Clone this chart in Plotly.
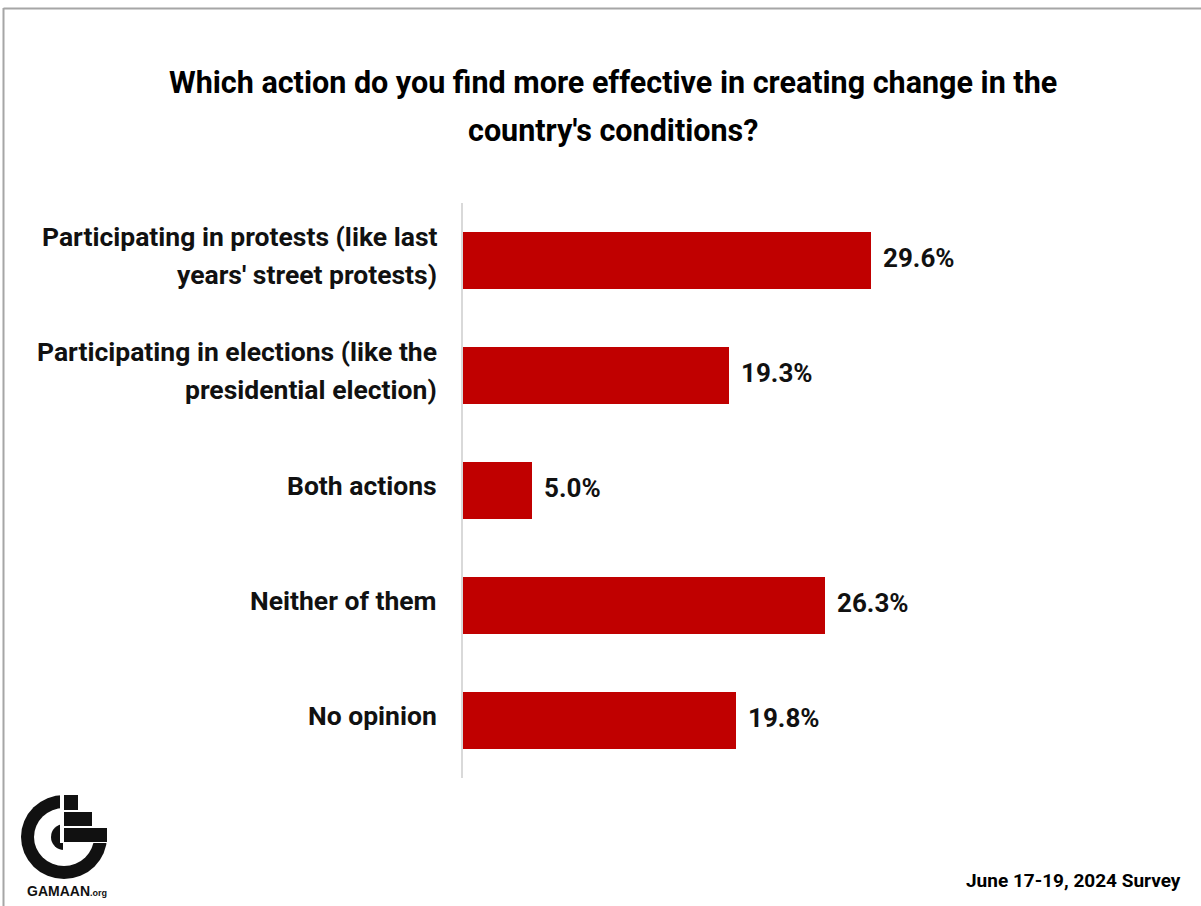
import plotly.graph_objects as go

W, H = 1201, 906

# Survey answers (label lines) and their shares in percent
answer_lines = [
    ["Participating in protests (like last", "years' street protests)"],
    ["Participating in elections (like the", "presidential election)"],
    ["Both actions"],
    ["Neither of them"],
    ["No opinion"],
]
shares = [29.6, 19.3, 5.0, 26.3, 19.8]

title_lines = [
    "Which action do you find more effective in creating change in the",
    "country's conditions?",
]
footer = "June 17-19, 2024 Survey"

keys = [" ".join(lines) for lines in answer_lines]

FONT = "Roboto"
RED = "#c00000"
INK = "#111111"


def px_x(p):
    return p / W


def px_y(p):
    return 1 - p / H


fig = go.Figure()
fig.add_trace(go.Bar(
    x=shares, y=keys, orientation="h",
    marker=dict(color=RED, line=dict(width=0)),
    width=0.495, hoverinfo="skip", showlegend=False,
))

annotations = []
# category labels, one annotation per line for wide line spacing
for key, lines in zip(keys, answer_lines):
    n = len(lines)
    for i, line in enumerate(lines):
        shift = (n - 1) / 2 * 38 - i * 38
        annotations.append(dict(
            x=px_x(439), xref="paper", y=key, yref="y", yshift=shift + 5,
            text=line, showarrow=False, xanchor="right", yanchor="middle",
            font=dict(family=FONT, size=26.5, color=INK, weight="bold"),
        ))

# value labels at bar ends
for key, v in zip(keys, shares):
    annotations.append(dict(
        x=v, xref="x", y=key, yref="y", xshift=10, yshift=3,
        text=f"{v:.1f}%", showarrow=False, xanchor="left", yanchor="middle",
        font=dict(family=FONT, size=26, color=INK, weight="bold"),
    ))

# title
for i, line in enumerate(title_lines):
    annotations.append(dict(
        x=px_x(613), xref="paper", y=px_y(82 + 48 * i), yref="paper",
        text=line, showarrow=False, xanchor="center", yanchor="middle",
        font=dict(family=FONT, size=30.5, color="#000000", weight="bold"),
    ))

# footer and logo wordmark
annotations.append(dict(
    x=px_x(1183), xref="paper", y=px_y(880), yref="paper",
    text=footer, showarrow=False, xanchor="right", yanchor="middle",
    font=dict(family=FONT, size=19, color="#000000", weight="bold"),
))
annotations.append(dict(
    x=px_x(67), xref="paper", y=px_y(891), yref="paper",
    text="GAMAAN<span style='font-size:9px'>.org</span>", showarrow=False,
    xanchor="center", yanchor="middle",
    font=dict(family="Arial, Liberation Sans", size=14, color="#111111", weight="bold"),
))

shapes = [
    # outer frame
    dict(type="line", xref="paper", yref="paper", x0=px_x(3.5), x1=px_x(3.5),
         y0=0, y1=px_y(8), line=dict(color="#a6a6a6", width=2)),
    dict(type="line", xref="paper", yref="paper", x0=px_x(3.5), x1=1,
         y0=px_y(8.5), y1=px_y(8.5), line=dict(color="#a6a6a6", width=2)),
]

# logo drawn in figure pixels (paper space, zero margins)
cx, cy = 64, 837
logo = [
    ("circle", cx - 43, cy - 42, cx + 43, cy + 42, "#111111"),
    ("circle", cx - 30, cy - 29, cx + 30, cy + 29, "white"),
    ("circle", cx - 13, cy - 13, cx + 13, cy + 13, "#111111"),
    ("rect", cx - 1, cy - 4, cx + 20, cy + 20, "white"),
    ("rect", cx - 4, cy - 50, cx + 50, cy + 6, "white"),
    ("rect", cx, 795, cx + 14, 810, "#111111"),
    ("rect", cx, 812, cx + 28, 826, "#111111"),
    ("rect", cx, 828, cx + 43, 842, "#111111"),
]
for kind, x0, y0, x1, y1, col in logo:
    shapes.append(dict(type=kind, xref="paper", yref="paper",
                       x0=px_x(x0), y0=px_y(y1), x1=px_x(x1), y1=px_y(y0),
                       fillcolor=col, line=dict(width=0), layer="above"))

fig.update_layout(
    width=W, height=H,
    margin=dict(l=0, r=0, t=0, b=0),
    paper_bgcolor="white", plot_bgcolor="white",
    xaxis=dict(domain=[px_x(463), px_x(1152)], range=[0, 50], visible=False, fixedrange=True),
    yaxis=dict(domain=[px_y(778), px_y(203)], range=[4.5, -0.5], showticklabels=False,
               showgrid=False, zeroline=False, showline=True, linecolor="#d9d9d9",
               linewidth=2, ticks="", fixedrange=True),
    annotations=annotations,
    shapes=shapes,
    bargap=0,
)

fig.write_html("out.html")
